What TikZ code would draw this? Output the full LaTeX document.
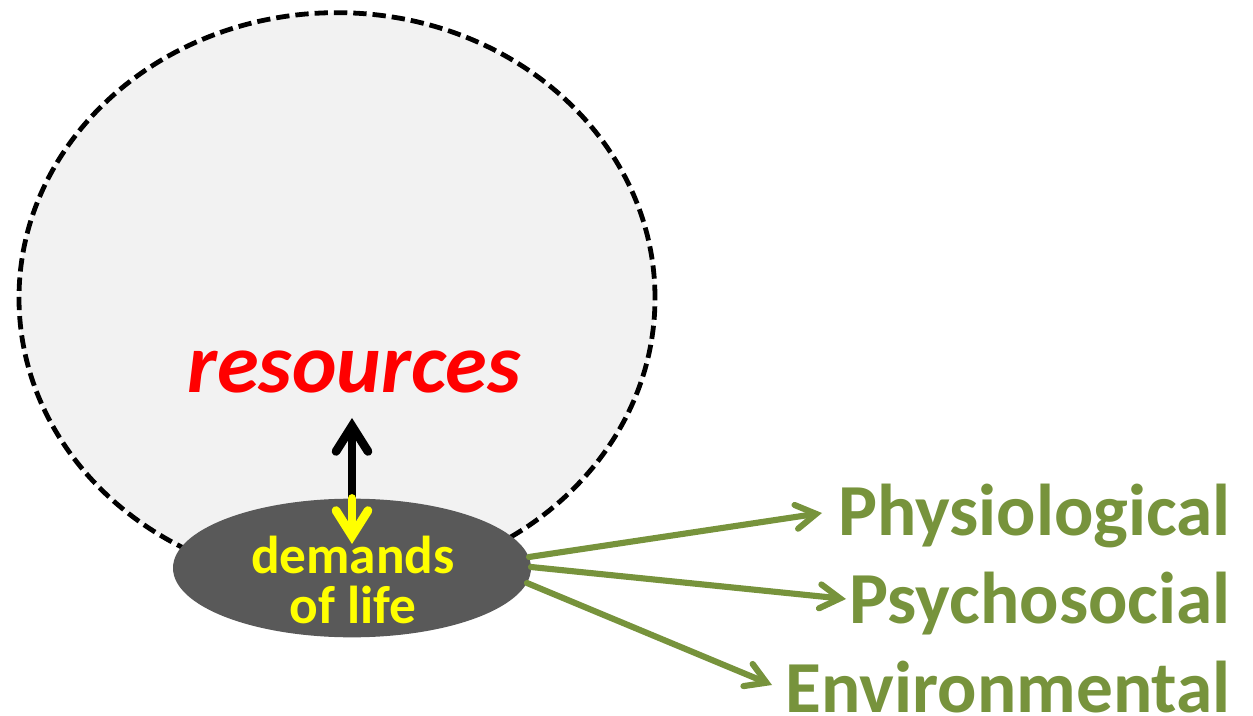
\documentclass[tikz,border=0pt]{standalone}
\usepackage{fontspec}
\setmainfont{Carlito}
\usetikzlibrary{arrows.meta,shapes.geometric}
\definecolor{bggray}{HTML}{F2F2F2}
\definecolor{darkell}{HTML}{595959}
\definecolor{olive}{HTML}{77933C}
\definecolor{yel}{HTML}{FFFF00}
\begin{document}
\begin{tikzpicture}[x=0.75pt,y=-0.75pt,
  bigcirc/.style={ellipse,draw=black,line width=3.6pt,dash pattern=on 10pt off 4.5pt,fill=bggray,inner sep=0pt,minimum width=477pt,minimum height=428pt},
  demand/.style={ellipse,fill=darkell,draw=none,inner sep=0pt,minimum width=268.5pt,minimum height=104pt},
  vtip/.style={-{Straight Barb[length=19pt,width=24pt,line cap=round]},line width=6.5pt,line cap=round},
  gtip/.style={-{Straight Barb[length=15pt,width=18pt,line cap=round]},line width=4.6pt,line cap=round,draw=olive},
  glabel/.style={text=olive,font=\bfseries\fontsize{55}{60}\selectfont,anchor=base east,inner sep=0pt}
]
\useasboundingbox (0,0) rectangle (1253,716);
\node[bigcirc] (res) at (337,298) {};
\node[text=red,font=\bfseries\itshape\fontsize{63.5}{70}\selectfont,anchor=base,inner sep=0pt] (restext) at (354,393) {resources};
\coordinate (uptip) at (352,418);
\coordinate (downtip) at (352,544);
\node[demand] (dem) at (352,568) {};
\draw[vtip,draw=black] (dem.north) -- (uptip);
\draw[vtip,draw=yel] (dem.north) -- (downtip);
\node[text=yel,font=\bfseries\fontsize{40}{37.5}\selectfont,align=center,anchor=base,inner sep=0pt] (demtext) at (353,623) {demands\\of life};
\node[glabel] (phys) at (1231,535) {Physiological};
\node[glabel] (psych) at (1231,623) {Psychosocial};
\node[glabel] (env) at (1231,712) {Environmental};
\coordinate (s1) at (529,557);
\coordinate (s2) at (531,567);
\coordinate (s3) at (527,583);
\coordinate (t1) at (822,513);
\coordinate (t2) at (846,599);
\coordinate (t3) at (772,685);
\draw[gtip] (s1) -- (t1);
\draw[gtip] (s2) -- (t2);
\draw[gtip] (s3) -- (t3);
\end{tikzpicture}
\end{document}
